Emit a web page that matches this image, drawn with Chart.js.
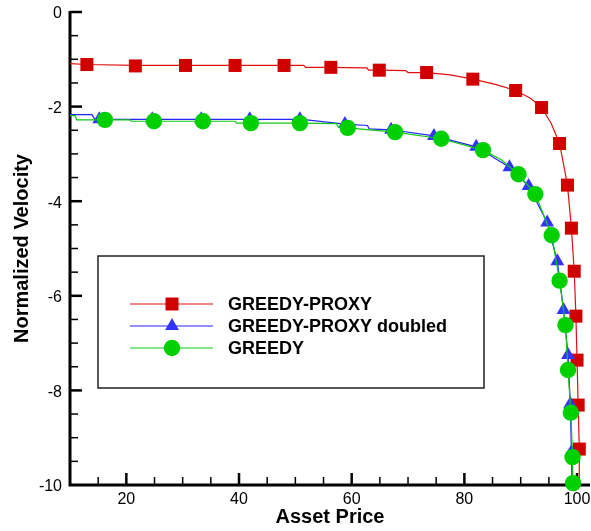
<!DOCTYPE html>
<html>
<head>
<meta charset="utf-8">
<script src="https://cdn.jsdelivr.net/npm/chart.js@4"></script>
<style>
body{margin:0;background:#fff}
</style>
</head>
<body>
<canvas id="chart" width="591" height="531"></canvas>
<script>
const seriesNames=['GREEDY-PROXY','GREEDY-PROXY doubled','GREEDY']
const xTicks=[20,40,60,80,100]
const yTicks=[0,-2,-4,-6,-8,-10]

// GREEDY-PROXY
const proxyX=[13.0,21.6,30.5,39.3,48.0,56.3,64.9,73.3,81.5,89.1,93.7,96.9,98.3,99.0,99.5,99.8,100.0,100.2,100.4]
const proxyY=[-1.11,-1.14,-1.13,-1.13,-1.13,-1.17,-1.23,-1.28,-1.42,-1.66,-2.02,-2.78,-3.66,-4.57,-5.48,-6.43,-7.36,-8.31,-9.24]
const proxyLineX=[10,13.0,21.6,30.5,39.3,48.0,51.5,51.8,56.3,62.7,63.0,64.9,69.6,70.0,73.3,77.5,81.5,85.5,89.1,91.8,93.7,95.4,96.9,98.3,99.0,99.5,99.8,100.0,100.2,100.4,100.4]
const proxyLineY=[-1.09,-1.11,-1.13,-1.13,-1.13,-1.13,-1.13,-1.17,-1.17,-1.18,-1.23,-1.23,-1.24,-1.28,-1.28,-1.33,-1.42,-1.53,-1.66,-1.83,-2.02,-2.35,-2.78,-3.66,-4.57,-5.48,-6.43,-7.36,-8.31,-9.24,-10]

// GREEDY-PROXY doubled
const doubledX=[15.2,24.6,33.3,41.9,50.8,58.8,67.0,74.6,82.1,88.0,91.4,94.7,96.5,97.6,98.4,98.8,99.0]
const doubledY=[-2.27,-2.27,-2.27,-2.27,-2.27,-2.37,-2.49,-2.62,-2.85,-3.28,-3.68,-4.45,-5.27,-6.30,-7.25,-8.29,-9.30]
const doubledLineX=[10,13.9,14.4,15.2,24.6,33.3,41.9,50.8,52.0,58.8,62.8,63.1,67.0,74.6,82.1,88.0,91.4,94.7,96.5,97.6,98.4,98.8,99.0,99.1]
const doubledLineY=[-2.17,-2.17,-2.27,-2.27,-2.27,-2.27,-2.27,-2.27,-2.28,-2.37,-2.40,-2.47,-2.49,-2.62,-2.85,-3.28,-3.68,-4.45,-5.27,-6.30,-7.25,-8.29,-9.30,-10]

// GREEDY
const greedyX=[16.2,24.9,33.6,42.1,50.8,59.3,67.7,75.9,83.3,89.6,92.6,95.5,96.9,97.95,98.4,98.9,99.2,99.3]
const greedyY=[-2.28,-2.31,-2.31,-2.35,-2.35,-2.45,-2.54,-2.68,-2.92,-3.43,-3.85,-4.72,-5.68,-6.62,-7.57,-8.47,-9.41,-9.96]
const greedyLineX=[10,10.9,11.2,16.2,20.6,20.9,24.9,33.6,39.3,39.6,42.1,50.8,57.3,57.6,59.3,67.7,75.9,83.3,86.5,89.6,92.6,95.5,96.9,97.95,98.4,98.9,99.2,99.3]
const greedyLineY=[-2.19,-2.19,-2.28,-2.28,-2.28,-2.31,-2.31,-2.31,-2.31,-2.35,-2.35,-2.35,-2.36,-2.43,-2.45,-2.54,-2.68,-2.92,-3.12,-3.43,-3.85,-4.72,-5.68,-6.62,-7.57,-8.47,-9.41,-10]

const colors=['#d00000','#3333ff','#00d000']
const lineColors=['#e01010','#2424ff','#10c810']
const shapes=['rect','triangle','circle']
const radii=[9.2,8,8.2]

const pts=(xs,ys)=>xs.map((x,i)=>({x:x,y:ys[i]}))
const markerSets=[pts(proxyX,proxyY),pts(doubledX,doubledY),pts(greedyX,greedyY)]
const lineSets=[pts(proxyLineX,proxyLineY),pts(doubledLineX,doubledLineY),pts(greedyLineX,greedyLineY)]

const datasets=[]
for(let i=0;i<3;i++){
    datasets.push({label:seriesNames[i]+' line',data:lineSets[i],showLine:true,borderColor:lineColors[i],borderWidth:1.2,pointRadius:0,fill:false,order:(2-i)*2+1,clip:false})
    datasets.push({label:seriesNames[i],data:markerSets[i],showLine:false,pointStyle:shapes[i],pointRadius:radii[i],pointBackgroundColor:colors[i],pointBorderColor:colors[i],pointBorderWidth:0,order:(2-i)*2,clip:false})
}

const fontFam='"Liberation Sans", Arial, Helvetica, sans-serif'

function drawMarker(ctx,shape,x,y,r){
    ctx.beginPath()
    if(shape=='rect'){
        const s=r*Math.SQRT1_2
        ctx.rect(x-s,y-s,2*s,2*s)
    }else if(shape=='triangle'){
        ctx.moveTo(x,y-r)
        ctx.lineTo(x+r*0.866,y+r*0.5)
        ctx.lineTo(x-r*0.866,y+r*0.5)
        ctx.closePath()
    }else{
        ctx.arc(x,y,r,0,Math.PI*2)
    }
    ctx.fill()
}

const axesAndLegend={
    id:'axesAndLegend',
    beforeDatasetsDraw(chart){
        const {ctx,chartArea:a,scales:{x,y}}=chart
        ctx.save()
        ctx.strokeStyle='#000'
        ctx.lineWidth=3
        ctx.beginPath()
        ctx.moveTo(a.left,a.top-1)
        ctx.lineTo(a.left,a.bottom)
        ctx.lineTo(a.right,a.bottom)
        ctx.stroke()
        for(let v=15;v<=100;v+=5){
            const major=v%20==0
            const px=x.getPixelForValue(v)
            ctx.lineWidth=major?2.5:1.5
            ctx.beginPath()
            ctx.moveTo(px,a.bottom)
            ctx.lineTo(px,a.bottom-(major?12:8))
            ctx.stroke()
        }
        for(let v=0;v>-10;v-=0.5){
            const major=Math.abs(v%2)<0.01
            const py=y.getPixelForValue(v)
            ctx.lineWidth=major?2.5:1.5
            ctx.beginPath()
            ctx.moveTo(a.left,py)
            ctx.lineTo(a.left+(major?12:8),py)
            ctx.stroke()
        }
        ctx.restore()
    },
    afterDatasetsDraw(chart){
        const ctx=chart.ctx
        ctx.save()
        ctx.fillStyle='#fff'
        ctx.fillRect(98,256,386,132)
        ctx.strokeStyle='#222'
        ctx.lineWidth=1.5
        ctx.strokeRect(98,256,386,132)
        const rows=[304,326,348]
        ctx.font='bold 18px '+fontFam
        ctx.textBaseline='middle'
        ctx.textAlign='left'
        for(let i=0;i<3;i++){
            ctx.strokeStyle=lineColors[i]
            ctx.lineWidth=1.2
            ctx.beginPath()
            ctx.moveTo(130,rows[i])
            ctx.lineTo(213,rows[i])
            ctx.stroke()
            ctx.fillStyle=colors[i]
            drawMarker(ctx,shapes[i],172,rows[i],radii[i])
            ctx.fillStyle='#000'
            ctx.fillText(seriesNames[i],228,rows[i]+1)
        }
        ctx.restore()
    }
}

const chart=new Chart(document.querySelector('#chart'),{
    type:'scatter',
    data:{datasets:datasets},
    plugins:[axesAndLegend],
    options:{
        responsive:false,
        animation:false,
        devicePixelRatio:1,
        layout:{autoPadding:false,padding:{top:12,right:1,left:0,bottom:0}},
        plugins:{legend:{display:false},tooltip:{enabled:false}},
        scales:{
            x:{
                type:'linear',min:10,max:102.3,
                afterBuildTicks(s){s.ticks=xTicks.map(v=>({value:v}))},
                afterFit(s){s.height=46;s.paddingLeft=0;s.paddingRight=0},
                grid:{display:false,drawTicks:false},
                border:{display:false},
                ticks:{color:'#000',font:{size:16,family:fontFam},padding:5,maxRotation:0},
                title:{display:true,text:'Asset Price',color:'#000',font:{size:20,weight:'bold',family:fontFam},padding:{top:0,bottom:2}}
            },
            y:{
                type:'linear',min:-10,max:0,
                afterBuildTicks(s){s.ticks=yTicks.map(v=>({value:v}))},
                afterFit(s){s.width=70;s.paddingTop=0;s.paddingBottom=0},
                grid:{display:false,drawTicks:false},
                border:{display:false},
                ticks:{color:'#000',font:{size:16,family:fontFam},padding:8,labelOffset:2},
                title:{display:true,text:'Normalized Velocity',color:'#000',font:{size:20,weight:'bold',family:fontFam},padding:{top:10,bottom:0}}
            }
        }
    }
})
</script>
</body>
</html>
